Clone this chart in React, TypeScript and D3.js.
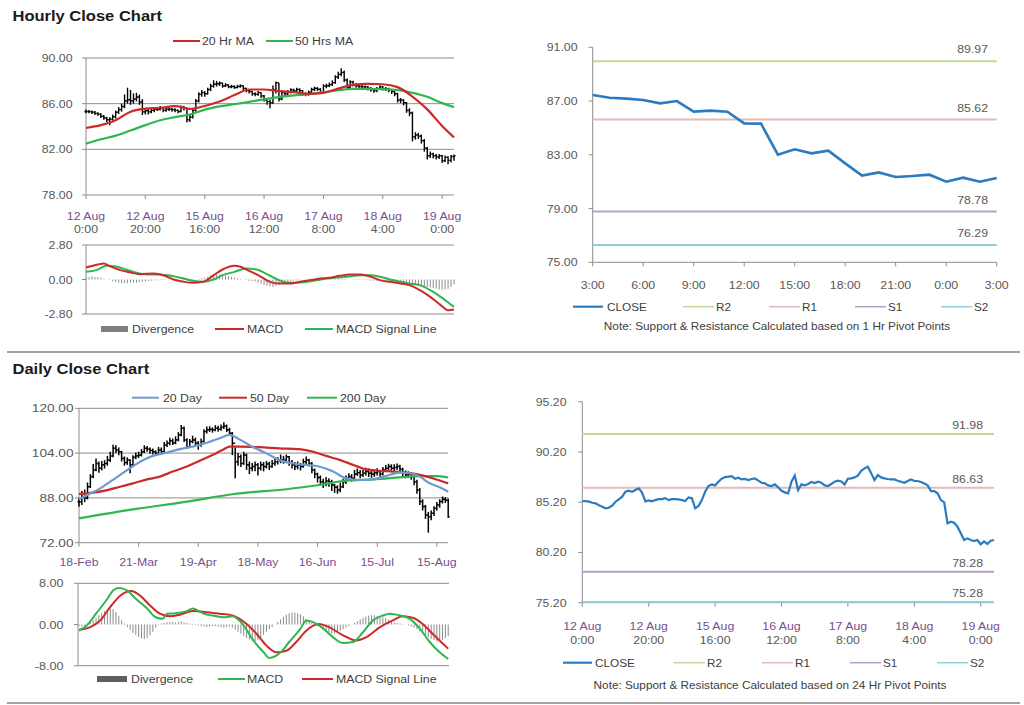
import React from "react";
import * as d3 from "d3";

const FONT = "Arial, 'Liberation Sans', Helvetica, sans-serif";
const GRID = "#8c8c8c";
const LABEL = "#595959";
const LEG = "#404040";
const DATE = "#7a4f8e";
const RED = "#cc2a2a";
const GREEN = "#2fb552";
const BLUE = "#6f9ad0";
const CLOSEC = "#2b7bc0";
const DIVC = "#8a8a8a";
const PIVC = ["#c4d79b", "#e6b9b8", "#b3a2c7", "#93cddd"];

// ---------------- Hourly data (12 Aug 0:00 .. 19 Aug ~4:00) ----------------
const hourlyClose = [
  85.32, 85.3, 85.25, 85.15, 85.08, 84.9, 84.75, 84.59, 84.65, 84.85,
  85.25, 85.48, 85.75, 86.24, 86.34, 86.24, 86.41, 86.58, 86.15, 85.28,
  85.38, 85.28, 85.41, 85.51, 85.51, 85.61, 85.41, 85.51, 85.51, 85.48,
  85.41, 85.32, 85.68, 85.61, 84.59, 84.82, 85.41, 86.24, 86.81, 86.97,
  86.87, 87.24, 87.54, 87.7, 87.74, 87.8, 87.54, 87.64, 87.47, 87.51,
  87.41, 87.51, 87.57, 87.34, 87.14, 87.07, 86.87, 86.81, 86.97, 86.68,
  86.34, 86.18, 86.08, 87.24, 87.84, 86.41, 86.97, 86.87, 87.01, 87.21,
  87.11, 87.24, 87.14, 86.87, 86.81, 87.01, 87.24, 87.34, 87.27, 86.97,
  87.54, 87.57, 87.67, 87.84, 88.33, 88.57, 88.73, 88.07, 87.41, 87.9,
  87.67, 87.57, 87.51, 87.47, 87.47, 87.34, 87.24, 87.14, 87.31, 87.47,
  87.31, 87.31, 87.21, 87.07, 86.87, 86.31, 86.31, 86.08, 85.41, 85.18,
  83.09, 83.26, 83.16, 82.76, 82.1, 81.44, 81.6, 81.44, 81.34, 81.44,
  81.0, 81.3, 81.03, 81.37, 81.44,
];
const hourlyHigh = [
  85.5, 85.45, 85.4, 85.35, 85.25, 85.15, 85.0, 84.85, 84.8, 85.05,
  85.4, 85.7, 86.0, 86.8, 87.4, 87.2, 86.9, 86.95, 86.8, 86.4,
  85.55, 85.55, 85.6, 85.7, 85.65, 85.8, 85.7, 85.65, 85.65, 85.62,
  85.6, 85.5, 85.85, 85.8, 85.65, 85.0, 85.6, 86.4, 87.0, 87.2,
  87.1, 87.4, 87.75, 88.05, 88.0, 87.95, 87.85, 87.8, 87.7, 87.65,
  87.6, 87.65, 87.7, 87.6, 87.4, 87.25, 87.1, 87.0, 87.1, 87.0,
  86.75, 86.45, 86.35, 87.6, 87.95, 87.8, 87.2, 87.1, 87.2, 87.35,
  87.3, 87.4, 87.35, 87.2, 87.0, 87.15, 87.4, 87.5, 87.45, 87.35,
  87.7, 87.75, 87.85, 88.05, 88.5, 88.8, 89.1, 88.9, 88.2, 88.05,
  88.0, 87.8, 87.7, 87.65, 87.6, 87.55, 87.45, 87.35, 87.45, 87.6,
  87.55, 87.45, 87.4, 87.3, 87.1, 86.95, 86.5, 86.4, 86.15, 85.6,
  85.3, 83.5, 83.45, 83.3, 82.9, 82.2, 81.8, 81.7, 81.6, 81.6,
  81.5, 81.45, 81.4, 81.5, 81.55,
];
const hourlyLow = [
  85.15, 85.15, 85.1, 85.0, 84.95, 84.75, 84.6, 84.4, 84.1, 84.5,
  84.7, 85.1, 85.3, 85.6, 86.0, 85.9, 86.0, 86.2, 85.9, 85.0,
  85.05, 85.05, 85.15, 85.25, 85.35, 85.4, 85.25, 85.3, 85.35, 85.3,
  85.25, 85.15, 85.25, 85.4, 84.35, 84.4, 84.7, 85.3, 86.1, 86.6,
  86.6, 86.8, 87.1, 87.4, 87.5, 87.55, 87.4, 87.45, 87.35, 87.35,
  87.3, 87.35, 87.4, 87.2, 87.0, 86.9, 86.7, 86.65, 86.7, 86.5,
  86.2, 85.9, 85.6, 86.0, 86.9, 86.2, 86.3, 86.6, 86.75, 86.9,
  86.95, 87.0, 87.0, 86.7, 86.65, 86.7, 86.9, 87.1, 87.1, 86.85,
  86.9, 87.35, 87.45, 87.55, 87.75, 88.15, 88.4, 87.9, 87.2, 87.3,
  87.5, 87.4, 87.35, 87.3, 87.3, 87.15, 87.05, 86.95, 87.0, 87.2,
  87.15, 87.1, 87.0, 86.85, 86.65, 86.1, 86.05, 85.85, 85.2, 84.9,
  82.7, 82.85, 82.9, 82.5, 81.8, 81.1, 81.25, 81.2, 81.1, 81.15,
  80.8, 80.9, 80.7, 80.85, 81.0,
];
const hr20Ma = [
  [0, 83.87], [5, 84.12], [10, 84.55], [15, 85.3], [20, 85.56], [25, 85.64],
  [30, 85.78], [35, 85.55], [40, 85.8], [45, 86.19], [50, 86.75], [55, 87.24],
  [60, 87.24], [65, 87.1], [70, 87.0], [75, 86.86], [80, 86.95], [85, 87.32],
  [90, 87.65], [95, 87.73], [100, 87.7], [105, 87.45], [110, 86.62], [115, 85.5],
  [120, 84.05], [124, 83.05],
];
const hr50Ma = [
  [0, 82.5], [5, 82.88], [10, 83.2], [15, 83.65], [20, 84.12], [25, 84.55],
  [30, 84.82], [35, 85.05], [40, 85.48], [45, 85.76], [50, 85.95], [55, 86.16],
  [60, 86.38], [65, 86.58], [70, 86.72], [75, 86.84], [80, 87.0], [85, 87.18],
  [90, 87.3], [95, 87.3], [100, 87.28], [105, 87.2], [110, 86.95], [115, 86.6],
  [120, 86.05], [124, 85.7],
];
const hrMacd = [
  [0, 0.97], [4, 1.22], [6, 1.3], [8, 1.08], [11.5, 0.76], [15, 0.57], [18, 0.43],
  [23, 0.49], [26, 0.35], [29.5, 0], [33, -0.19], [36, -0.27], [39.5, -0.19],
  [43, 0.35], [46, 0.81], [50, 1.11], [52, 1.03], [55, 0.7], [59, 0.22], [62, -0.19],
  [65, -0.32], [69, -0.32], [72, -0.19], [75.5, -0.05], [79, 0.08], [82, 0.14],
  [85.5, 0.3], [89, 0.41], [92.5, 0.41], [96, 0.22], [99, -0.05], [102.5, -0.19],
  [106, -0.32], [109, -0.46], [112.5, -0.87], [116, -1.41], [119.5, -2.08],
  [122, -2.49], [124, -2.44],
];
const hrSignal = [
  [0, 0.62], [3.5, 0.76], [7, 1.11], [10.5, 1.03], [13.5, 0.81], [17, 0.54],
  [20.5, 0.41], [25, 0.41], [29.5, 0.27], [33, 0.08], [36, -0.11], [39.5, -0.19],
  [43, 0], [46, 0.35], [50, 0.62], [54, 0.89], [57.5, 0.81], [61, 0.43], [64.5, 0],
  [67.5, -0.24], [71, -0.27], [74.5, -0.19], [78, -0.05], [81, 0.08], [84.5, 0.16],
  [88, 0.22], [92.5, 0.35], [96, 0.35], [99, 0.22], [102.5, 0], [106, -0.19],
  [109, -0.32], [112.5, -0.46], [116, -0.87], [119.5, -1.41], [122.5, -1.95],
  [124, -2.22],
];
const hrDivergence = [
  0.15, 0.2, 0.25, 0.2, 0.2, 0.15,
  0.05, 0.0, -0.05,
  -0.15, -0.2, -0.25, -0.3, -0.3, -0.3, -0.28, -0.25, -0.25, -0.2, -0.18, -0.15,
  -0.12, -0.1, -0.08, -0.06, -0.05, -0.04, -0.05, -0.06, -0.05, -0.04,
  -0.04, -0.03, -0.05, -0.08, -0.06, -0.03, 0.0, 0.05,
  0.1, 0.15, 0.22, 0.3, 0.35, 0.4, 0.4, 0.38, 0.32, 0.28, 0.2, 0.15, 0.1, 0.05,
  0.0, -0.05, -0.1, -0.12, -0.15,
  -0.25, -0.35, -0.45, -0.5, -0.55, -0.6, -0.55, -0.45, -0.35,
  -0.28, -0.22, -0.15, -0.1, -0.06, -0.03,
  0.0, 0.03, 0.05, 0.06, 0.06, 0.05, 0.04, 0.05,
  0.06, 0.07, 0.08, 0.08, 0.07, 0.06, 0.04, 0.02, 0.0, -0.02, -0.03, -0.04, -0.04, -0.05, -0.06,
  -0.08, -0.1, -0.12, -0.12, -0.13, -0.15, -0.15, -0.17, -0.2,
  -0.22, -0.25, -0.28, -0.3, -0.33, -0.36, -0.4, -0.45,
  -0.5, -0.55, -0.6, -0.65, -0.7, -0.75, -0.8, -0.82, -0.8, -0.75, -0.6, -0.4,
];
const hourlyTickIdx = [0, 20, 40, 60, 80, 100, 120];
const hourlyTickDay = ["12 Aug", "12 Aug", "15 Aug", "16 Aug", "17 Aug", "18 Aug", "19 Aug"];
const hourlyTickTime = ["0:00", "20:00", "16:00", "12:00", "8:00", "4:00", "0:00"];

// ---------------- Last 24 hours with 1 Hr pivots ----------------
const lastDayClose = [
  87.45, 87.25, 87.18, 87.08, 86.83, 87.0, 86.21, 86.29, 86.21, 85.34, 85.32,
  83.01, 83.41, 83.11, 83.31, 82.36, 81.45, 81.69, 81.35, 81.42, 81.52, 81.0,
  81.3, 81.0, 81.27,
];
const lastDayTicks = ["3:00", "6:00", "9:00", "12:00", "15:00", "18:00", "21:00", "0:00", "3:00"];
const pivotNames = ["R2", "R1", "S1", "S2"];
const pivot1Hr = [89.97, 85.62, 78.78, 76.29];
const pivot24Hr = [91.98, 86.63, 78.28, 75.28];

// ---------------- Daily data ----------------
const dailyClose = [
  86.65, 88.4, 88.0, 92.0, 95.6, 98.0, 100.3, 98.6, 99.8, 100.3,
  101.5, 103.0, 105.7, 105.1, 104.5, 102.1, 100.6, 101.5, 99.8, 102.5,
  103.0, 103.3, 104.5, 105.7, 105.4, 104.9, 104.5, 103.9, 105.1, 104.5,
  106.9, 107.5, 108.4, 107.7, 108.7, 110.5, 112.9, 108.7, 106.3, 108.1,
  108.7, 107.5, 106.9, 108.1, 111.7, 112.3, 112.5, 112.3, 112.9, 112.5,
  113.2, 113.7, 112.3, 111.1, 107.5, 100.9, 102.7, 100.3, 103.3, 99.8,
  98.6, 99.2, 99.8, 98.6, 99.8, 99.2, 100.1, 99.2, 100.3, 100.9,
  101.3, 101.5, 101.5, 102.7, 100.6, 99.8, 99.2, 99.8, 99.2, 100.9,
  101.5, 100.3, 98.0, 96.5, 95.3, 93.8, 93.2, 94.0, 93.8, 92.6,
  91.8, 90.8, 92.0, 93.8, 95.0, 95.6, 95.0, 96.5, 97.0, 96.2,
  96.8, 97.4, 96.8, 96.5, 97.0, 97.4, 96.5, 98.0, 98.6, 99.2,
  98.6, 98.9, 99.2, 98.2, 97.0, 96.2, 96.5, 95.6, 93.8, 90.8,
  86.7, 84.9, 81.9, 81.3, 82.5, 84.3, 85.5, 86.7, 87.5, 87.2,
  81.3,
];
const dailyHigh = [
  88.0, 90.5, 91.0, 93.5, 96.5, 100.1, 102.1, 101.0, 101.2, 101.5,
  103.0, 104.5, 107.0, 106.8, 106.0, 104.8, 102.8, 102.5, 101.8, 103.2,
  104.2, 104.5, 105.5, 106.8, 106.5, 106.0, 105.6, 105.0, 106.2, 106.0,
  108.0, 108.5, 109.5, 109.2, 110.0, 111.5, 114.0, 113.5, 109.3, 109.0,
  110.2, 109.5, 108.3, 109.2, 112.5, 113.5, 113.6, 113.2, 114.0, 113.8,
  114.2, 115.0, 114.2, 113.0, 111.5, 106.0, 104.0, 103.5, 104.5, 103.8,
  101.0, 100.5, 101.0, 100.5, 101.0, 100.8, 101.2, 100.9, 101.5, 102.2,
  102.5, 103.5, 103.0, 103.5, 103.0, 101.5, 100.8, 101.0, 100.5, 102.0,
  102.8, 102.0, 100.8, 98.5, 97.0, 96.0, 94.8, 95.5, 95.0, 94.5,
  93.0, 92.5, 93.5, 94.8, 96.0, 96.8, 96.5, 98.0, 98.5, 98.0,
  98.0, 98.8, 98.5, 97.8, 98.2, 98.6, 98.0, 99.0, 99.8, 100.2,
  100.0, 100.0, 100.3, 99.8, 98.8, 97.8, 97.5, 97.0, 96.0, 94.5,
  91.5, 87.5, 85.5, 83.0, 83.5, 85.0, 86.5, 87.5, 88.5, 88.3,
  87.8,
];
const dailyLow = [
  84.8, 85.5, 86.5, 87.5, 91.5, 95.0, 97.5, 97.0, 97.8, 98.5,
  99.5, 100.8, 102.5, 104.0, 103.2, 101.0, 99.5, 99.8, 96.8, 99.0,
  101.8, 102.2, 102.8, 104.0, 104.5, 103.8, 103.5, 103.0, 103.5, 103.6,
  104.2, 106.2, 106.8, 106.9, 107.2, 108.2, 110.0, 108.0, 105.5, 105.8,
  107.5, 106.5, 105.2, 106.3, 107.8, 111.0, 111.5, 111.3, 111.8, 111.6,
  112.0, 112.6, 111.5, 110.2, 103.3, 95.0, 99.5, 99.0, 99.8, 98.0,
  96.5, 97.5, 97.5, 96.0, 97.8, 97.5, 98.5, 98.0, 98.8, 99.5,
  99.9, 100.4, 100.2, 100.8, 99.5, 98.5, 98.0, 98.2, 97.8, 98.8,
  100.0, 99.2, 96.8, 95.0, 93.5, 92.5, 91.5, 92.2, 92.0, 90.5,
  89.8, 89.5, 90.0, 91.5, 93.0, 94.2, 93.8, 94.5, 95.8, 95.0,
  95.5, 96.0, 95.5, 95.2, 95.5, 96.0, 95.2, 96.0, 97.2, 97.8,
  97.5, 97.5, 97.9, 97.0, 95.8, 95.0, 95.2, 94.5, 92.5, 89.5,
  85.5, 83.5, 80.5, 75.6, 80.0, 81.5, 83.5, 84.5, 86.0, 86.2,
  80.8,
];
const d20Ma = [
  [0, 87.5], [4, 89.6], [7.5, 91.4], [11, 93.8], [14.5, 96.2], [18, 98.6], [21.5, 100.9],
  [26, 103.0], [31, 104.2], [35.5, 105.4], [40, 106.3], [45, 107.7], [49.5, 109.3],
  [53, 110.5], [56.5, 108.9], [61, 106.3], [66, 103.9], [70.5, 101.5], [75.5, 100.3],
  [80, 99.8], [84.5, 99.2], [89.5, 97.4], [94, 95.0], [99, 94.4], [103.5, 94.6],
  [108, 95.8], [113, 97.0], [116.5, 96.8], [120, 95.6], [123.5, 93.2], [127, 91.8],
  [130, 90.2],
];
const d50Ma = [
  [0, 89.4], [5, 89.9], [10, 90.8], [14.5, 92.0], [19, 93.2], [24, 94.6], [28.5, 95.6],
  [33, 97.4], [38, 99.2], [42.5, 101.3], [47, 103.3], [51, 105.4], [53, 106.3],
  [56.5, 106.3], [63.5, 106.1], [70.5, 105.7], [77.5, 105.4], [82.5, 104.5], [87, 103.0],
  [92, 101.5], [96.5, 99.8], [101, 98.2], [106, 97.7], [110.5, 97.4], [115, 97.0],
  [120, 96.2], [124.5, 95.0], [130, 93.2],
];
const d200Ma = [
  [0, 80.7], [19, 83.9], [38, 86.65], [54, 89.3], [73, 91.1], [84.5, 92.6], [94, 94.2],
  [103.5, 94.6], [113, 95.3], [120, 95.8], [126, 95.8], [130, 95.3],
];
const dMacd = [
  [0, -1.2], [2.7, -0.2], [6, 2.1], [10, 5.0], [12, 6.6], [14, 7.1], [17, 6.6], [20, 5.0],
  [24, 3.1], [27, 1.4], [29.5, 1.1], [31, 2.1], [34, 2.2], [38, 2.6], [40, 3.1], [44, 2.1],
  [47, 1.75], [51, 1.4], [54, 1.6], [58, -0.2], [61, -2.8], [65, -5.4], [67, -6.5],
  [71, -5.4], [74, -3.4], [78, -0.8], [80, 0.8], [82.5, 0.45], [86, -0.8], [89.5, -2.5],
  [93, -3.6], [96.5, -3.4], [100, -1.5], [103.5, 0.8], [107, 1.75], [109.5, 2.1],
  [113, 1.75], [116.5, 1.1], [120, -0.8], [123.5, -3.4], [127, -5.4], [130, -6.7],
];
const dSignal = [
  [0, -1.0], [4, -0.5], [7.5, 0.8], [11, 3.4], [14.5, 5.6], [18.5, 6.5], [21.5, 5.6],
  [25, 3.7], [28.5, 2.1], [32, 1.6], [35.5, 1.9], [40, 2.6], [45, 2.4], [49.5, 2.1],
  [54, 1.75], [59, 0.1], [62.5, -1.8], [66, -4.1], [69.5, -5.4], [73, -5.1], [76.5, -3.4],
  [80, -1.2], [84.5, 0.1], [88, -0.5], [93, -2.1], [97.5, -3.1], [101, -2.5], [106, -0.5],
  [110.5, 0.8], [114, 1.6], [117.5, 1.3], [121, 0.1], [124.5, -1.8], [127.5, -3.4],
  [130, -4.7],
];
const dDivergence = [
  -0.3, -0.4, -0.3, -0.1,
  0.3, 0.8, 1.3, 1.8, 2.2, 2.6, 2.9, 3.1, 3.0,
  2.4, 1.6, 0.8, 0.2,
  -0.5, -1.0, -1.6, -2.0, -2.4, -2.7, -2.8, -2.6, -2.1, -1.4, -0.6,
  0.1, 0.2, 0.3, 0.4, 0.5, 0.5, 0.4, 0.5, 0.6, 0.4, 0.3, 0.2, 0.1,
  -0.1, -0.2, -0.3, -0.4, -0.5, -0.4, -0.3, -0.3, -0.4, -0.5, -0.6, -0.5, -0.4, -0.6, -1.0,
  -1.4, -1.8, -2.2, -2.6, -2.9, -3.1, -3.2, -3.0, -2.6, -2.0, -1.4,
  -0.9, -0.5, 0.0, 0.5, 1.0,
  1.5, 1.9, 2.2, 2.3, 2.3, 2.2, 2.0, 1.6, 1.1,
  0.6, 0.3, 0.0, -0.3,
  -0.6, -0.9, -1.2, -1.5, -1.7, -1.7, -1.5, -1.2, -0.9,
  -0.6, -0.3, 0.0,
  0.3, 0.6, 1.0, 1.3, 1.5, 1.7, 1.8, 1.8, 1.7, 1.6, 1.4, 1.2, 0.9, 0.6,
  0.4, 0.3, 0.2, 0.1, 0.0,
  -0.2, -0.4, -0.6, -0.9,
  -1.3, -1.7, -2.1, -2.5, -2.8, -3.0, -3.3, -3.2, -3.0, -2.6, -2.2,
];
const dailyTickIdx = [0, 21, 42, 63, 84, 105, 126];
const dailyTickLabels = ["18-Feb", "21-Mar", "19-Apr", "18-May", "16-Jun", "15-Jul", "15-Aug"];

// ---------------- helpers ----------------
function T(props: any) {
  const { x, y, children, anchor = "start", size = 11, sx = 1.12, fill = LABEL, weight = "normal" } = props;
  return (
    <text
      transform={`translate(${x},${y}) scale(${sx},1)`}
      textAnchor={anchor}
      fontSize={size}
      fill={fill}
      fontWeight={weight}
      fontFamily={FONT}
    >
      {children}
    </text>
  );
}

const tupleLine = (xs: any, ys: any) =>
  d3.line<number[]>().x((d) => xs(d[0])).y((d) => ys(d[1])).curve(d3.curveMonotoneX);

function Bars({ xs, ys, high, low, close, tick, w }: any) {
  return (
    <g stroke="#000" strokeWidth={w}>
      {close.map((c: number, i: number) => {
        const x = xs(i);
        const o = i > 0 ? close[i - 1] : c;
        return (
          <g key={i}>
            <line x1={x} x2={x} y1={ys(high[i])} y2={ys(low[i])} />
            <line x1={x - tick} x2={x} y1={ys(o)} y2={ys(o)} />
            <line x1={x} x2={x + tick} y1={ys(c)} y2={ys(c)} />
          </g>
        );
      })}
    </g>
  );
}

function DivBars({ xs, ys, values }: any) {
  return (
    <g fill={DIVC}>
      {values.map((v: number, i: number) => (
        <rect key={i} x={xs(i) - 0.5} width={1} y={Math.min(ys(v), ys(0))} height={Math.abs(ys(v) - ys(0))} />
      ))}
    </g>
  );
}

function LegLine({ x1, x2, y, color, w = 2 }: any) {
  return <line x1={x1} x2={x2} y1={y} y2={y} stroke={color} strokeWidth={w} />;
}

export default function App() {
  // Panel 1: hourly bars
  const x1 = d3.scaleLinear().domain([0, 124]).range([86, 454]);
  const y1 = d3.scaleLinear().domain([78, 90]).range([195, 58]);
  const y1Ticks = d3.range(78, 90.01, 4);
  const ym1 = d3.scaleLinear().domain([-2.8, 2.8]).range([314, 245]);
  const ym1Ticks = [-2.8, 0, 2.8];

  // Panel 2: last 24h
  const x2 = d3.scaleLinear().domain([0, 24]).range([592.7, 996.7]);
  const y2 = d3.scaleLinear().domain([75, 91]).range([262.3, 47.3]);
  const y2Ticks = d3.range(75, 91.01, 4);

  // Panel 3: daily bars
  const x3 = d3.scaleLinear().domain([0, 130]).range([79, 448.2]);
  const y3 = d3.scaleLinear().domain([72, 120]).range([542.7, 408.3]);
  const y3Ticks = d3.range(72, 120.01, 16);
  const ym3 = d3.scaleLinear().domain([-8, 8]).range([665.7, 583.3]);
  const ym3Ticks = [-8, 0, 8];

  // Panel 4: hourly close with 24h pivots
  const x4 = d3.scaleLinear().domain([0, 124]).range([582.3, 994]);
  const y4 = d3.scaleLinear().domain([75.2, 95.2]).range([602.7, 401.7]);
  const y4Ticks = d3.range(75.2, 95.21, 5);

  const closeLine2 = d3.line<number>().x((d, i) => x2(i)).y((d) => y2(d));
  const closeLine4 = d3.line<number>().x((d, i) => x4(i)).y((d) => y4(d));

  return (
    <svg
      width={1024}
      height={705}
      style={{ position: "absolute", left: 0, top: 0, background: "#fff" }}
      fontFamily={FONT}
    >
      <rect x={0} y={0} width={1024} height={705} fill="#fff" />

      {/* ============ Hourly Close Chart ============ */}
      <T x={12.5} y={20.5} size={14} sx={1.18} weight="bold" fill="#1a1a1a">Hourly Close Chart</T>

      {/* legend */}
      <LegLine x1={173} x2={200} y={41} color={RED} />
      <T x={202} y={45} fill={LEG}>20 Hr MA</T>
      <LegLine x1={266} x2={293} y={41} color={GREEN} />
      <T x={295} y={45} fill={LEG}>50 Hrs MA</T>

      {y1Ticks.map((v) => (
        <g key={v}>
          <line x1={82} x2={454} y1={y1(v)} y2={y1(v)} stroke={GRID} strokeWidth={1} />
          <T x={72.5} y={y1(v) + 4} anchor="end">{v.toFixed(2)}</T>
        </g>
      ))}
      <line x1={86} x2={86} y1={y1(90)} y2={y1(78)} stroke={GRID} />
      {hourlyTickIdx.map((t, k) => (
        <g key={t}>
          <line x1={x1(t)} x2={x1(t)} y1={195} y2={199} stroke={GRID} />
          <T x={x1(t)} y={220} anchor="middle" fill={DATE}>{hourlyTickDay[k]}</T>
          <T x={x1(t)} y={233} anchor="middle">{hourlyTickTime[k]}</T>
        </g>
      ))}
      <Bars xs={x1} ys={y1} high={hourlyHigh} low={hourlyLow} close={hourlyClose} tick={1.5} w={1.4} />
      <path d={tupleLine(x1, y1)(hr50Ma as any) || ""} fill="none" stroke={GREEN} strokeWidth={2.2} />
      <path d={tupleLine(x1, y1)(hr20Ma as any) || ""} fill="none" stroke={RED} strokeWidth={2.2} />

      {/* hourly MACD */}
      <line x1={86} x2={454} y1={ym1(2.8)} y2={ym1(2.8)} stroke={GRID} />
      <line x1={86} x2={454} y1={ym1(-2.8)} y2={ym1(-2.8)} stroke={GRID} />
      <line x1={86} x2={86} y1={ym1(2.8)} y2={ym1(-2.8)} stroke={GRID} />
      {ym1Ticks.map((v) => (
        <g key={v}>
          <line x1={82} x2={86} y1={ym1(v)} y2={ym1(v)} stroke={GRID} />
          <T x={72.5} y={ym1(v) + 4} anchor="end">{v.toFixed(2)}</T>
        </g>
      ))}
      <DivBars xs={x1} ys={ym1} values={hrDivergence} />
      <path d={tupleLine(x1, ym1)(hrSignal as any) || ""} fill="none" stroke={GREEN} strokeWidth={2} />
      <path d={tupleLine(x1, ym1)(hrMacd as any) || ""} fill="none" stroke={RED} strokeWidth={2} />
      <rect x={101} y={326} width={27} height={6} fill="#7f7f7f" />
      <T x={132} y={333} fill={LEG}>Divergence</T>
      <LegLine x1={215} x2={244} y={329} color={RED} />
      <T x={247} y={333} fill={LEG}>MACD</T>
      <LegLine x1={305} x2={333} y={329} color={GREEN} />
      <T x={336} y={333} fill={LEG}>MACD  Signal Line</T>

      {/* ============ Last 24 hours with pivots ============ */}
      <line x1={592.7} x2={592.7} y1={47.3} y2={262.3} stroke={GRID} />
      <line x1={592.7} x2={996.7} y1={262.3} y2={262.3} stroke={GRID} />
      {y2Ticks.map((v) => (
        <g key={v}>
          <line x1={588.7} x2={592.7} y1={y2(v)} y2={y2(v)} stroke={GRID} />
          <T x={577.5} y={y2(v) + 4} anchor="end">{v.toFixed(2)}</T>
        </g>
      ))}
      {lastDayTicks.map((lab, k) => (
        <g key={k}>
          <line x1={x2(k * 3)} x2={x2(k * 3)} y1={262.3} y2={266.3} stroke={GRID} />
          <T x={x2(k * 3)} y={289} anchor="middle">{lab}</T>
        </g>
      ))}
      {pivot1Hr.map((v, k) => (
        <g key={k}>
          <line x1={592.7} x2={996.7} y1={y2(v)} y2={y2(v)} stroke={PIVC[k]} strokeWidth={2} />
          <T x={988} y={y2(v) - 8} anchor="end">{v.toFixed(2)}</T>
        </g>
      ))}
      <path d={closeLine2(lastDayClose) || ""} fill="none" stroke={CLOSEC} strokeWidth={2.6} />
      <LegLine x1={573} x2={603} y={306.7} color={CLOSEC} w={2.2} />
      <T x={607} y={310.5} size={10.5} fill={LEG}>CLOSE</T>
      {pivotNames.map((n, k) => {
        const lx = [683, 769, 855, 941][k];
        return (
          <g key={n}>
            <LegLine x1={lx} x2={lx + 31} y={306.7} color={PIVC[k]} w={1.5} />
            <T x={lx + 33} y={310.5} size={10.5} fill={LEG}>{n}</T>
          </g>
        );
      })}
      <T x={777} y={330} anchor="middle" size={11} sx={1.07} fill={LEG}>
        Note: Support &amp; Resistance Calculated based on 1 Hr Pivot Points
      </T>

      {/* separators */}
      <line x1={7} x2={1020} y1={352} y2={352} stroke="#a3a3a3" strokeWidth={2} />
      <line x1={7} x2={1020} y1={703} y2={703} stroke="#a3a3a3" strokeWidth={2} />

      {/* ============ Daily Close Chart ============ */}
      <T x={12.5} y={374} size={14} sx={1.18} weight="bold" fill="#1a1a1a">Daily Close Chart</T>
      <LegLine x1={132} x2={159} y={397.7} color={BLUE} />
      <T x={163} y={401.7} fill={LEG}>20 Day</T>
      <LegLine x1={219} x2={247} y={397.7} color={RED} />
      <T x={250} y={401.7} fill={LEG}>50 Day</T>
      <LegLine x1={307} x2={337} y={397.7} color={GREEN} />
      <T x={340} y={401.7} fill={LEG}>200 Day</T>

      {y3Ticks.map((v) => (
        <g key={v}>
          <line x1={75} x2={448.2} y1={y3(v)} y2={y3(v)} stroke={GRID} />
          <T x={73.5} y={y3(v) + 4} anchor="end" size={10.5} sx={1.3}>{v.toFixed(2)}</T>
        </g>
      ))}
      <line x1={79} x2={79} y1={y3(120)} y2={y3(72)} stroke={GRID} />
      {dailyTickIdx.map((t, k) => (
        <g key={t}>
          <line x1={x3(t)} x2={x3(t)} y1={542.7} y2={546.7} stroke={GRID} />
          <T x={x3(t)} y={566} anchor="middle" fill={DATE}>{dailyTickLabels[k]}</T>
        </g>
      ))}
      <Bars xs={x3} ys={y3} high={dailyHigh} low={dailyLow} close={dailyClose} tick={1.5} w={1.5} />
      <path d={tupleLine(x3, y3)(d200Ma as any) || ""} fill="none" stroke={GREEN} strokeWidth={2.2} />
      <path d={tupleLine(x3, y3)(d50Ma as any) || ""} fill="none" stroke={RED} strokeWidth={2.2} />
      <path d={tupleLine(x3, y3)(d20Ma as any) || ""} fill="none" stroke={BLUE} strokeWidth={2.2} />

      {/* daily MACD */}
      <line x1={78} x2={449} y1={ym3(8)} y2={ym3(8)} stroke={GRID} />
      <line x1={78} x2={449} y1={ym3(-8)} y2={ym3(-8)} stroke={GRID} />
      <line x1={78} x2={78} y1={ym3(8)} y2={ym3(-8)} stroke={GRID} />
      {ym3Ticks.map((v) => (
        <g key={v}>
          <line x1={74} x2={78} y1={ym3(v)} y2={ym3(v)} stroke={GRID} />
          <T x={63.5} y={ym3(v) + 4} anchor="end" sx={1.15}>{v.toFixed(2)}</T>
        </g>
      ))}
      <DivBars xs={x3} ys={ym3} values={dDivergence} />
      <path d={tupleLine(x3, ym3)(dSignal as any) || ""} fill="none" stroke={RED} strokeWidth={2} />
      <path d={tupleLine(x3, ym3)(dMacd as any) || ""} fill="none" stroke={GREEN} strokeWidth={2} />
      <rect x={97} y={676} width={30} height={6} fill="#5f5f5f" />
      <T x={131} y={683} fill={LEG}>Divergence</T>
      <LegLine x1={218} x2={245} y={679} color={GREEN} />
      <T x={247} y={683} fill={LEG}>MACD</T>
      <LegLine x1={302} x2={333} y={679} color={RED} />
      <T x={336} y={683} fill={LEG}>MACD  Signal Line</T>

      {/* ============ Hourly close with 24 Hr pivots ============ */}
      <line x1={582.3} x2={582.3} y1={401.7} y2={602.7} stroke={GRID} />
      <line x1={582.3} x2={994} y1={602.7} y2={602.7} stroke={GRID} />
      {y4Ticks.map((v) => (
        <g key={v}>
          <line x1={578.3} x2={582.3} y1={y4(v)} y2={y4(v)} stroke={GRID} />
          <T x={566.5} y={y4(v) + 4} anchor="end">{v.toFixed(2)}</T>
        </g>
      ))}
      {hourlyTickIdx.map((t, k) => (
        <g key={t}>
          <line x1={x4(t)} x2={x4(t)} y1={602.7} y2={606.7} stroke={GRID} />
          <T x={x4(t)} y={630} anchor="middle" fill={DATE}>{hourlyTickDay[k]}</T>
          <T x={x4(t)} y={644} anchor="middle">{hourlyTickTime[k]}</T>
        </g>
      ))}
      {pivot24Hr.map((v, k) => (
        <g key={k}>
          <line x1={582.3} x2={994} y1={y4(v)} y2={y4(v)} stroke={PIVC[k]} strokeWidth={2} />
          <T x={983} y={y4(v) - 5} anchor="end">{v.toFixed(2)}</T>
        </g>
      ))}
      <path d={closeLine4(hourlyClose) || ""} fill="none" stroke={CLOSEC} strokeWidth={2.2} />
      <LegLine x1={563} x2={592} y={662.7} color={CLOSEC} w={2.2} />
      <T x={595} y={666.5} size={10.5} fill={LEG}>CLOSE</T>
      {pivotNames.map((n, k) => {
        const lx = [674, 762, 850, 937][k];
        return (
          <g key={n}>
            <LegLine x1={lx} x2={lx + 31} y={662.7} color={PIVC[k]} w={1.5} />
            <T x={lx + 33} y={666.5} size={10.5} fill={LEG}>{n}</T>
          </g>
        );
      })}
      <T x={770} y={689} anchor="middle" size={11} sx={1.07} fill={LEG}>
        Note:  Support &amp; Resistance Calculated based on 24 Hr Pivot Points
      </T>
    </svg>
  );
}
